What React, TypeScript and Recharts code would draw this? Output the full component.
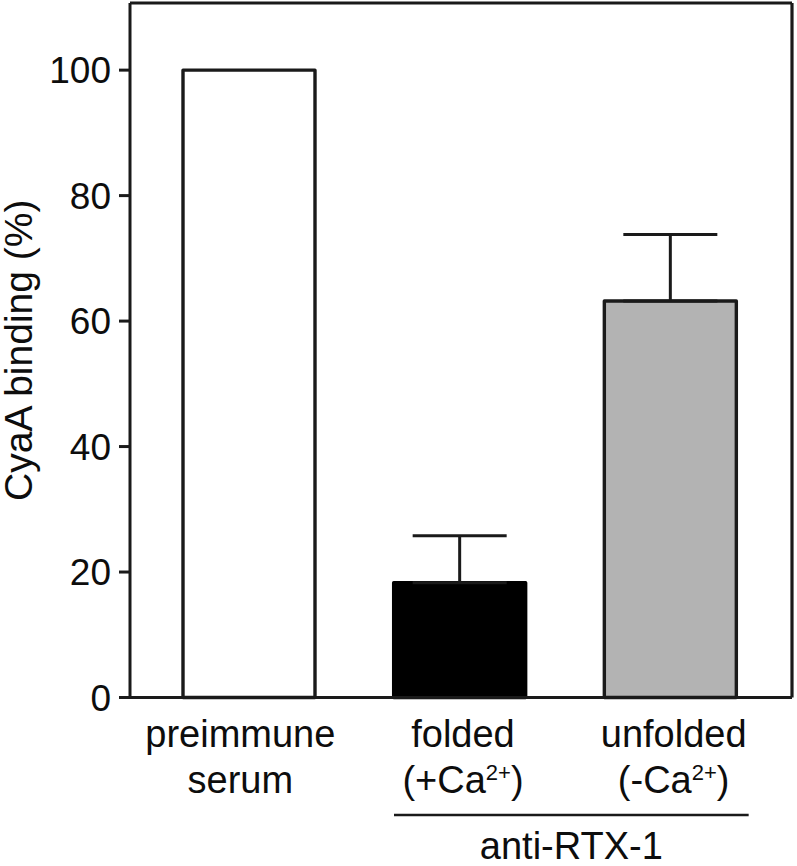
import React from "react";
import { BarChart, Bar, XAxis, YAxis, ErrorBar, Cell } from "recharts";

// values
const CATEGORIES = ["preimmune", "folded", "unfolded"];
const LINE2 = ["serum", "(+Ca", "(-Ca"];
const LINE2_SUP = ["", "2+", "2+"];
const LINE2_END = ["", ")", ")"];
const GROUP = ["", "anti-RTX-1", "anti-RTX-1"];
const BINDING = [100, 18.3, 63.2];
const ERROR_UP = [null, 7.5, 10.6];
const Y_TICKS = [0, 20, 40, 60, 80, 100];
const Y_MAX = 110.7;

const FILLS = ["#ffffff", "#000000", "#b3b3b3"];
const STROKES = ["#1a1a1a", "#000000", "#1a1a1a"];

const FONT = "'Liberation Sans', Arial, Helvetica, sans-serif";
const INK = "#0d0d0d";
const LINE = "#1a1a1a";

const W = 797;
const H = 866;
const MARGIN = { top: 2, right: 4, bottom: 0, left: 0 };
const Y_AXIS_W = 130;
const RIGHT_W = 1;
const PAD = { left: 14, right: 16 };
const PLOT_W = W - MARGIN.left - MARGIN.right - Y_AXIS_W - RIGHT_W;
const BAND = (PLOT_W - PAD.left - PAD.right) / CATEGORIES.length;
const TICK_NUDGE = [-9, 3, 3];

const data = CATEGORIES.map((name, i) => ({
  name,
  value: BINDING[i],
  err: ERROR_UP[i] == null ? null : [0, ERROR_UP[i]],
}));

function CategoryTick(props: any) {
  const { x, y, index } = props;
  const i = index as number;
  const cx = x + TICK_NUDGE[i];
  const group = GROUP[i];
  const groupStart = group && group !== GROUP[i - 1];
  const groupLen = GROUP.filter((g) => g === group).length;
  const lineX1 = x - 66;
  const lineX2 = x + BAND * (groupLen - 1) + 78;
  return (
    <g fontFamily={FONT} fill={INK}>
      <text x={cx} y={y + 49} textAnchor="middle" fontSize={38}>
        {CATEGORIES[i]}
      </text>
      <text x={cx} y={y + 95.5} textAnchor="middle" fontSize={38}>
        {LINE2[i]}
        {LINE2_SUP[i] && (
          <tspan dy={-13} fontSize={22}>
            {LINE2_SUP[i]}
          </tspan>
        )}
        {LINE2_END[i] && <tspan dy={13}>{LINE2_END[i]}</tspan>}
      </text>
      {groupStart && (
        <g>
          <line x1={lineX1} x2={lineX2} y1={y + 117.5} y2={y + 117.5} stroke={LINE} strokeWidth={2.4} />
          <text x={(lineX1 + lineX2) / 2} y={y + 161} textAnchor="middle" fontSize={38}>
            {group}
          </text>
        </g>
      )}
    </g>
  );
}

function YLabel(props: any) {
  const vb = props.viewBox;
  const x = vb.x + 32;
  const y = vb.y + vb.height / 2;
  return (
    <text
      x={x}
      y={y}
      transform={`rotate(-90, ${x}, ${y})`}
      textAnchor="middle"
      fontSize={39}
      fontFamily={FONT}
      fill={INK}
    >
      CyaA binding (%)
    </text>
  );
}

export default function App() {
  return (
    <div style={{ position: "absolute", left: 0, top: 0, width: W, height: H, background: "#fff" }}>
      <BarChart width={W} height={H} data={data} margin={MARGIN}>
        <XAxis
          dataKey="name"
          height={168.5}
          interval={0}
          padding={PAD}
          tickLine={false}
          tickSize={0}
          tickMargin={0}
          axisLine={{ stroke: LINE, strokeWidth: 3 }}
          tick={(p: any) => <CategoryTick {...p} />}
        />
        <XAxis
          xAxisId="top"
          orientation="top"
          dataKey="name"
          height={1}
          padding={PAD}
          tick={false}
          tickLine={false}
          axisLine={{ stroke: LINE, strokeWidth: 3.2 }}
        />
        <YAxis
          width={Y_AXIS_W}
          domain={[0, Y_MAX]}
          ticks={Y_TICKS}
          interval={0}
          tickSize={11}
          tickMargin={8}
          tickLine={{ stroke: LINE, strokeWidth: 3 }}
          axisLine={{ stroke: LINE, strokeWidth: 3 }}
          tick={{ fontSize: 37, fill: INK, fontFamily: FONT }}
          label={(p: any) => <YLabel {...p} />}
        />
        <YAxis
          yAxisId="right"
          orientation="right"
          width={RIGHT_W}
          tick={false}
          tickLine={false}
          axisLine={{ stroke: LINE, strokeWidth: 3.2 }}
        />
        <Bar dataKey="value" barSize={132} strokeWidth={3.4} strokeLinejoin="round" isAnimationActive={false}>
          {data.map((d, i) => (
            <Cell key={d.name} fill={FILLS[i]} stroke={STROKES[i]} strokeWidth={3.4} />
          ))}
          <ErrorBar dataKey="err" direction="y" width={47} stroke={LINE} strokeWidth={3} isAnimationActive={false} />
        </Bar>
      </BarChart>
    </div>
  );
}
